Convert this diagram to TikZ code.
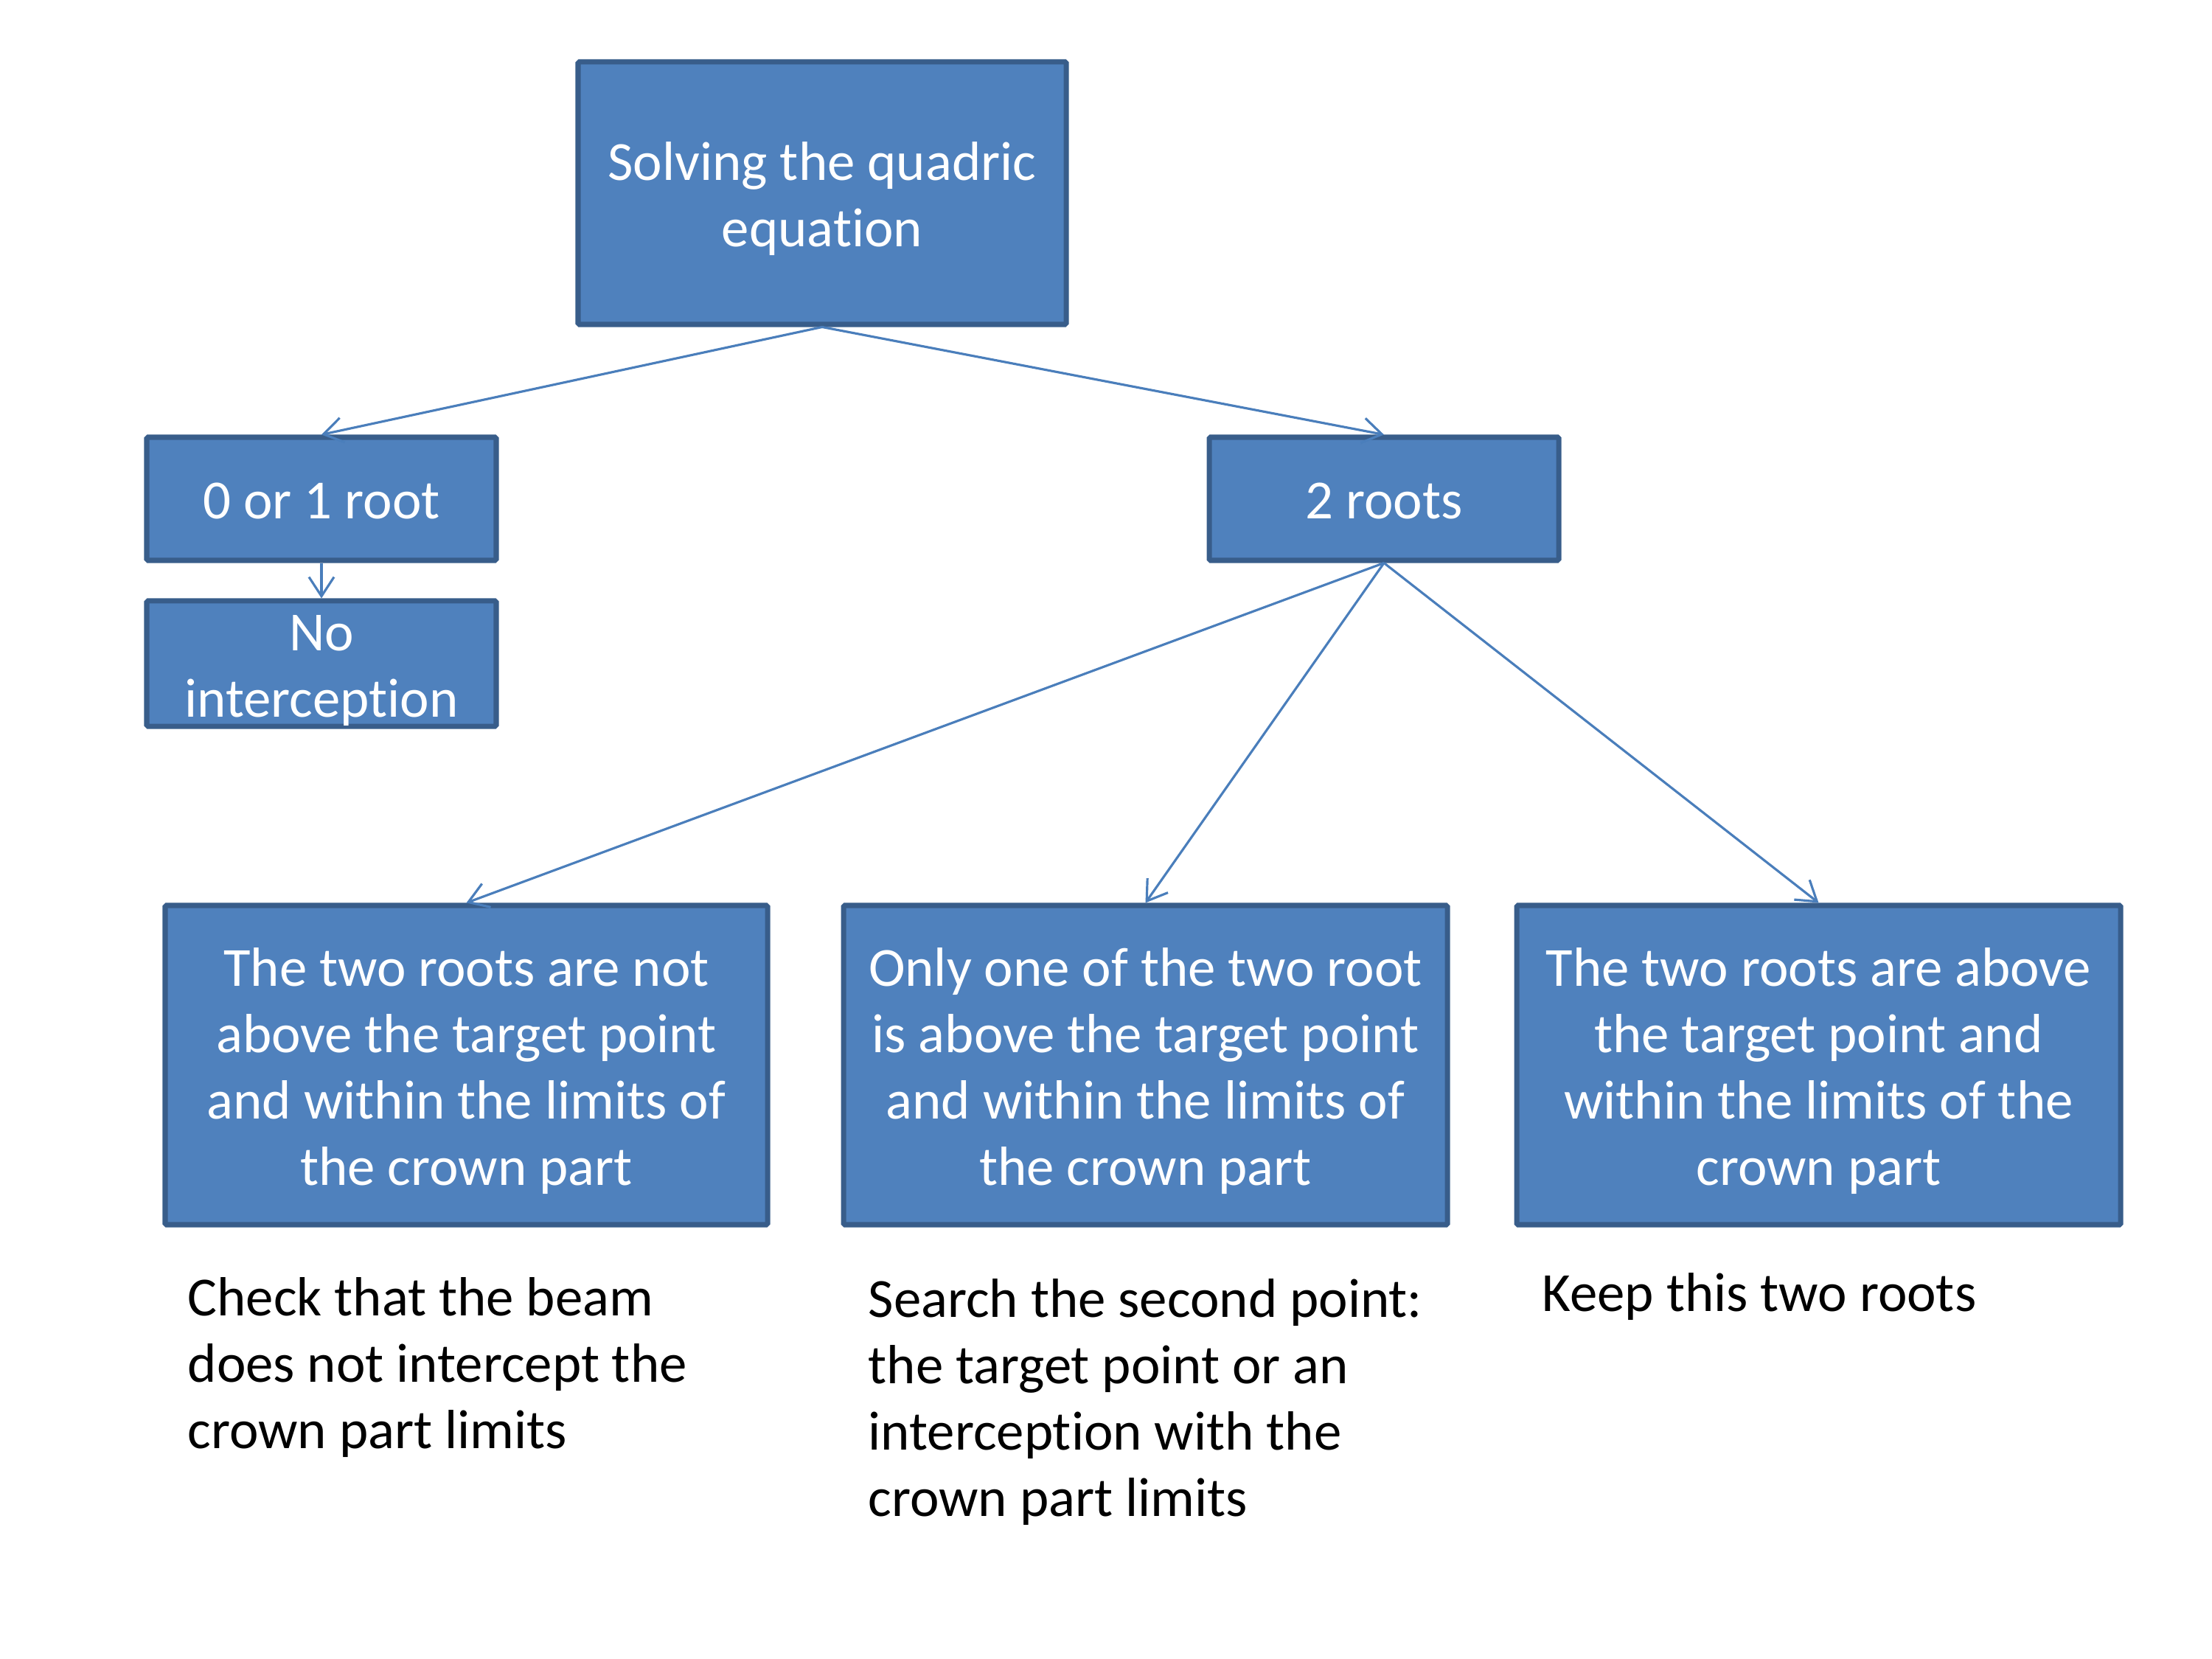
\documentclass[tikz,border=0pt]{standalone}
\usepackage{fontspec}
\setmainfont{Carlito}[Ligatures=NoCommon]
\usetikzlibrary{arrows.meta}
\definecolor{boxfill}{HTML}{4F81BD}
\definecolor{boxline}{HTML}{385D8A}
\definecolor{linkcol}{HTML}{4A7EBB}
\newcommand{\boxstrut}[1][0.68cm]{\rule{0pt}{#1}}
\begin{document}
\begin{tikzpicture}[
    font=\fontsize{21.3}{25.6}\selectfont,
    stepbox/.style={draw=boxline, fill=boxfill, line width=2pt, text=white,
        align=center, inner sep=0pt, rounded corners=0.5pt},
    link/.style={draw=linkcol, line width=0.9pt,
        -{Straight Barb[length=2.6mm, width=3.4mm]}},
    note/.style={anchor=north west, align=left, inner sep=0pt}
  ]
    \useasboundingbox (0,0) rectangle (30,-22.5);

    % boxes
    \node[stepbox, minimum width=6.62cm, minimum height=3.56cm] (solve) at (11.15,-2.62)
        {\boxstrut Solving the quadric\\equation};
    \node[stepbox, minimum width=4.74cm, minimum height=1.67cm] (zero) at (4.36,-6.765)
        {\boxstrut[0.55cm]0 or 1 root};
    \node[stepbox, minimum width=4.74cm, minimum height=1.66cm] (nohit) at (4.36,-9.0)
        {\boxstrut No\\interception};
    \node[stepbox, minimum width=4.74cm, minimum height=1.67cm] (two) at (18.77,-6.765)
        {\boxstrut[0.55cm]2 roots};
    \node[stepbox, minimum width=8.17cm, minimum height=4.33cm] (none) at (6.325,-14.445)
        {\boxstrut The two roots are not\\above the target point\\and within the limits of\\the crown part};
    \node[stepbox, minimum width=8.19cm, minimum height=4.33cm] (one) at (15.535,-14.445)
        {\boxstrut Only one of the two root\\is above the target point\\and within the limits of\\the crown part};
    \node[stepbox, minimum width=8.19cm, minimum height=4.33cm] (both) at (24.665,-14.445)
        {\boxstrut The two roots are above\\the target point and\\within the limits of the\\crown part};

    % notes
    \node[note] (checknote) at (2.54,-17.32)
        {Check that the beam\\does not intercept the\\crown part limits};
    \node[note] (searchnote) at (11.77,-17.34)
        {Search the second point:\\the target point or an\\interception with the\\crown part limits};
    \node[note] (keepnote) at (20.91,-17.26)
        {Keep this two roots};

    % links
    \draw[link] (solve.south) -- (zero.north);
    \draw[link] (solve.south) -- (two.north);
    \draw[link] (zero.south) -- (nohit.north);
    \draw[link] (two.south) -- (none.north);
    \draw[link] (two.south) -- (one.north);
    \draw[link] (two.south) -- (both.north);

\end{tikzpicture}
\end{document}
